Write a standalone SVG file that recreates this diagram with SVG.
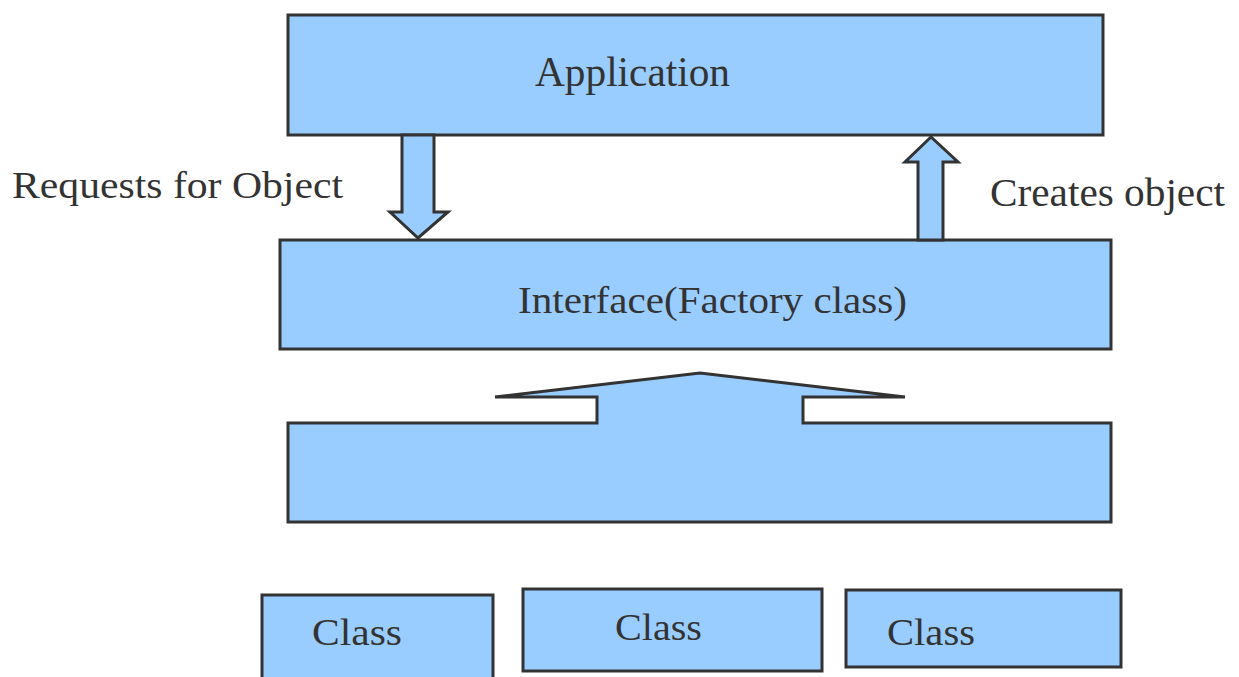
<svg xmlns="http://www.w3.org/2000/svg" width="1239" height="677" viewBox="0 0 1239 677">
<style>
.box{fill:#99ccff;stroke:#333;stroke-width:3;stroke-linejoin:miter}
.arrow{fill:#99ccff;stroke:#333;stroke-width:3;stroke-linejoin:miter}
.t{font-family:"Liberation Serif","Times New Roman",serif;fill:#333}
</style>
<rect width="1239" height="677" fill="#fff"/>
<g id="application">
<rect class="box" x="288" y="15" width="815" height="120"/>
<text class="t" x="535" y="86" font-size="42" textLength="195" lengthAdjust="spacingAndGlyphs">Application</text>
</g>
<g id="interface">
<rect class="box" x="280" y="240" width="831" height="109"/>
<text class="t" x="518" y="313" font-size="38" textLength="389" lengthAdjust="spacingAndGlyphs">Interface(Factory class)</text>
</g>
<g id="classes-layer">
<path class="box" d="M288,423 L597,423 L597,397 L495,397 L700,373 L905,397 L803,397 L803,423 L1111,423 L1111,522 L288,522 Z"/>
</g>
<g id="class1">
<rect class="box" x="262" y="595" width="231" height="90"/>
<text class="t" x="312" y="645" font-size="38" textLength="90" lengthAdjust="spacingAndGlyphs">Class</text>
</g>
<g id="class2">
<rect class="box" x="523" y="589" width="299" height="82"/>
<text class="t" x="615" y="640" font-size="38" textLength="87" lengthAdjust="spacingAndGlyphs">Class</text>
</g>
<g id="class3">
<rect class="box" x="846" y="590" width="275" height="77"/>
<text class="t" x="887" y="645" font-size="38" textLength="88" lengthAdjust="spacingAndGlyphs">Class</text>
</g>
<g id="connectors">
<polygon class="arrow" points="402,135 434,135 434,212 448,212 418,238 390,212 402,212"/>
<polygon class="arrow" points="918,240 943,240 943,162 958,162 931,137 905,162 918,162"/>
<text class="t" x="12" y="198" font-size="37" textLength="331" lengthAdjust="spacingAndGlyphs">Requests for Object</text>
<text class="t" x="990" y="206" font-size="40" textLength="235" lengthAdjust="spacingAndGlyphs">Creates object</text>
</g>
</svg>
